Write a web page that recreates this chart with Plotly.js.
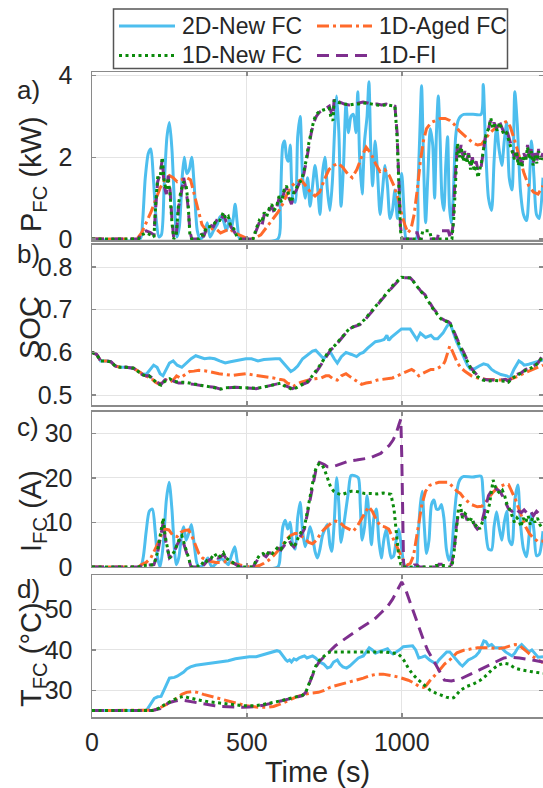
<!DOCTYPE html>
<html>
<head>
<meta charset="utf-8">
<script src="https://cdn.plot.ly/plotly-3.0.1.min.js"></script>
<style>html,body{margin:0;padding:0;background:#fff;}#chart{width:543px;height:788px;}</style>
</head>
<body>
<div id="chart"></div>
<script>
// ---------- DATA (time s, value) ----------
const seriesNames = ["2D-New FC", "1D-Aged FC", "1D-New FC", "1D-FI"];
const xTicks = [0, 500, 1000];
const panelLabels = ["a)", "b)", "c)", "d)"];
const yTitles = ["P<sub>FC</sub> (kW)", "SOC", "I<sub>FC</sub> (A)", "T<sub>FC</sub> (°C)"];

// a) P_FC (kW)
const P_2DNew = [[0,0],[155,0],[163,0.4],[172,1.5],[182,2.1],[190,2.2],[198,1.5],[207,0.5],[216,0.05],[224,0.1],[233,1.3],[242,2.5],[250,2.85],[258,2.2],[266,0.9],[274,0.05],[282,0.3],[291,1.5],[298,2.0],[306,1.6],[314,1.7],[322,2.0],[330,1.3],[340,0.2],[350,0],[362,0.1],[372,0.4],[381,0.05],[392,0.2],[404,0.35],[414,0.55],[424,0.45],[434,0.2],[444,0.5],[452,0.3],[462,0.85],[470,0.3],[478,0],[600,0],[608,0.8],[616,2.3],[622,2.4],[628,2.0],[634,1.9],[640,2.3],[648,1.0],[656,0.9],[664,2.5],[672,3.0],[680,1.5],[688,1.0],[696,1.5],[704,0.8],[712,1.3],[720,1.8],[728,1.3],[736,0.6],[744,1.6],[752,2.0],[760,1.2],[768,0.7],[776,1.4],[784,2.8],[790,3.5],[797,2.6],[804,0.8],[812,1.8],[820,3.3],[828,2.6],[836,3.0],[844,3.05],[852,2.6],[858,3.6],[864,2.0],[872,1.1],[880,2.4],[888,3.0],[894,3.85],[900,2.2],[906,1.3],[914,2.4],[922,1.6],[930,0.6],[938,1.2],[946,1.8],[954,1.3],[962,0.5],[970,0.7],[978,1.2],[986,0.5],[994,1.2],[1000,1.6],[1008,0.6],[1015,0],[1046,0],[1052,1.2],[1058,2.5],[1064,3.75],[1070,2.0],[1077,0.4],[1084,1.5],[1092,2.7],[1100,2.3],[1106,1.0],[1112,2.6],[1118,3.5],[1124,2.4],[1130,1.0],[1136,0.7],[1142,1.8],[1148,2.5],[1154,0.8],[1160,0.4],[1166,1.0],[1174,2.5],[1182,2.9],[1190,3.0],[1200,3.05],[1230,3.05],[1256,3.05],[1263,3.78],[1270,2.4],[1280,1.0],[1290,0.7],[1298,1.9],[1306,2.75],[1314,2.2],[1323,1.8],[1331,2.4],[1339,2.85],[1347,1.5],[1356,1.2],[1365,3.6],[1373,2.8],[1383,1.2],[1393,0.6],[1403,0.45],[1411,1.2],[1419,2.4],[1427,1.5],[1435,0.6],[1444,0.5],[1456,1.5]];
const P_1DAged = [[0,0],[145,0],[160,0.15],[175,0.4],[190,0.65],[205,0.95],[220,1.25],[235,1.45],[250,1.55],[262,1.5],[275,1.4],[290,1.45],[305,1.5],[318,1.45],[330,1.1],[342,0.7],[355,0.35],[370,0.2],[385,0.25],[400,0.25],[415,0.15],[430,0.2],[445,0.25],[460,0.15],[475,0.1],[490,0.03],[505,0],[525,0.02],[545,0.1],[565,0.3],[585,0.5],[600,0.65],[615,0.85],[630,1.1],[645,1.3],[660,1.4],[675,1.45],[690,1.3],[705,1.15],[720,1.05],[735,1.15],[750,1.45],[765,1.7],[780,1.8],[795,1.85],[810,1.75],[825,1.6],[840,1.5],[855,1.7],[870,2.0],[885,2.25],[900,2.1],[915,1.85],[930,1.65],[945,1.7],[960,1.55],[975,1.3],[990,0.95],[1000,0.6],[1010,0.35],[1020,0.15],[1030,0.25],[1040,0.6],[1050,1.2],[1060,1.9],[1070,2.4],[1080,2.7],[1095,2.85],[1110,2.9],[1125,2.95],[1140,2.95],[1155,2.9],[1170,2.8],[1185,2.65],[1200,2.55],[1215,2.45],[1230,2.35],[1245,2.3],[1258,2.32],[1270,2.45],[1285,2.6],[1300,2.7],[1315,2.78],[1330,2.85],[1340,2.88],[1350,2.75],[1365,2.4],[1380,2.0],[1395,1.6],[1410,1.3],[1425,1.15],[1440,1.1],[1456,1.3]];
const P_1DNew = [[0,0],[150,0],[160,0.1],[175,0.15],[190,0.1],[200,0.05],[206,0.9],[212,1.5],[220,1.5],[227,2.0],[233,1.4],[240,1.2],[246,1.5],[252,1.1],[258,0.4],[264,0],[272,0.1],[280,0.9],[288,1.2],[296,1.4],[304,1.3],[310,0.9],[316,0.1],[322,0],[345,0],[352,0.1],[360,0.1],[370,0.3],[380,0.3],[392,0.35],[402,0.45],[412,0.45],[424,0.65],[432,0.5],[440,0.55],[448,0.3],[458,0.25],[468,0.05],[478,0],[520,0],[530,0.25],[540,0.45],[548,0.4],[556,0.65],[564,0.55],[572,0.75],[580,0.85],[588,0.7],[596,0.8],[604,1.05],[612,0.9],[620,1.2],[628,1.3],[636,1.05],[644,0.9],[652,1.15],[660,1.25],[668,1.35],[676,1.45],[684,1.65],[692,1.95],[700,2.35],[708,2.65],[716,2.9],[724,3.05],[734,3.12],[744,3.15],[756,3.18],[766,3.2],[772,2.95],[778,2.9],[782,3.4],[790,3.35],[800,3.33],[815,3.3],[830,3.28],[845,3.3],[860,3.3],[875,3.33],[890,3.32],[905,3.3],[920,3.28],[935,3.27],[950,3.28],[965,3.27],[978,3.25],[985,2.5],[991,1.0],[996,0.2],[1001,0],[1062,0],[1068,0.2],[1090,0.2],[1096,0],[1162,0],[1168,0.5],[1174,1.6],[1180,2.35],[1186,2.0],[1192,2.25],[1198,1.9],[1204,2.1],[1210,1.85],[1216,2.05],[1222,1.7],[1228,1.95],[1234,1.65],[1240,1.8],[1246,1.5],[1252,1.7],[1258,1.9],[1264,2.2],[1272,2.55],[1280,2.7],[1288,2.95],[1294,2.7],[1300,2.8],[1308,2.65],[1316,2.85],[1322,2.7],[1330,2.55],[1338,2.6],[1346,2.4],[1352,2.25],[1358,2.1],[1364,1.95],[1370,2.15],[1376,1.8],[1382,2.0],[1388,1.75],[1394,2.05],[1400,1.9],[1406,2.25],[1412,1.95],[1418,2.15],[1424,1.8],[1430,2.05],[1436,1.85],[1442,2.15],[1448,1.9],[1456,2.05]];
const P_1DFI = [[0,0],[150,0],[160,0.15],[175,0.2],[190,0.15],[200,0.1],[206,0.8],[212,1.4],[220,1.6],[227,1.95],[233,1.3],[240,1.1],[246,1.55],[252,1.2],[258,0.5],[264,0],[272,0.1],[280,0.8],[288,1.1],[296,1.5],[304,1.2],[310,0.8],[316,0.2],[322,0],[345,0],[352,0.15],[360,0.05],[370,0.25],[380,0.35],[392,0.3],[402,0.45],[412,0.4],[424,0.6],[432,0.45],[440,0.5],[448,0.3],[458,0.2],[468,0.05],[478,0],[520,0],[530,0.2],[540,0.4],[548,0.3],[556,0.6],[564,0.55],[572,0.7],[580,0.8],[588,0.65],[596,0.75],[604,1.0],[612,0.9],[620,1.15],[628,1.25],[636,1.0],[644,0.85],[652,1.1],[660,1.2],[668,1.35],[676,1.4],[684,1.6],[692,1.9],[700,2.3],[708,2.6],[716,2.85],[724,3.0],[734,3.1],[744,3.15],[756,3.2],[766,3.25],[772,3.1],[778,3.0],[782,3.45],[790,3.38],[800,3.35],[815,3.3],[830,3.28],[845,3.3],[860,3.32],[875,3.35],[890,3.33],[905,3.3],[920,3.3],[935,3.28],[950,3.3],[965,3.27],[978,3.25],[985,2.6],[991,1.2],[996,0.3],[1001,0],[1035,0],[1040,0.15],[1050,0.15],[1056,0],[1115,0],[1120,0.2],[1150,0.2],[1158,0],[1165,0.3],[1172,1.5],[1180,2.3],[1186,2.1],[1192,2.3],[1198,2.0],[1204,2.15],[1210,1.95],[1216,2.1],[1222,1.8],[1228,2.0],[1234,1.8],[1240,1.9],[1246,1.7],[1252,1.8],[1256,1.75],[1262,2.1],[1270,2.5],[1278,2.6],[1286,2.9],[1292,2.75],[1298,2.85],[1306,2.7],[1314,2.9],[1322,2.75],[1330,2.6],[1338,2.7],[1346,2.5],[1352,2.35],[1358,2.2],[1364,2.0],[1370,2.2],[1376,1.9],[1382,2.05],[1388,1.8],[1394,2.1],[1400,1.95],[1406,2.3],[1412,2.0],[1418,2.2],[1424,1.85],[1430,2.1],[1436,1.9],[1442,2.2],[1448,1.95],[1456,2.1]];

// b) SOC
const SOC_2DNew = [[0,0.6],[15,0.595],[28,0.58],[45,0.58],[61,0.578],[75,0.568],[90,0.565],[110,0.565],[134,0.563],[150,0.555],[162,0.55],[175,0.548],[188,0.56],[199,0.57],[210,0.565],[220,0.55],[229,0.545],[240,0.56],[250,0.575],[262,0.58],[275,0.57],[290,0.565],[305,0.575],[320,0.585],[335,0.592],[350,0.588],[363,0.585],[380,0.587],[396,0.585],[412,0.58],[430,0.575],[447,0.578],[463,0.58],[480,0.583],[497,0.585],[515,0.585],[536,0.58],[555,0.583],[575,0.585],[592,0.585],[606,0.585],[618,0.575],[631,0.563],[642,0.555],[653,0.56],[664,0.568],[680,0.585],[698,0.595],[712,0.603],[722,0.605],[735,0.595],[748,0.585],[760,0.595],[770,0.6],[782,0.585],[792,0.575],[805,0.59],[820,0.6],[838,0.595],[854,0.59],[866,0.597],[876,0.6],[890,0.61],[898,0.615],[915,0.625],[930,0.627],[943,0.63],[952,0.64],[958,0.628],[966,0.635],[982,0.645],[999,0.655],[1013,0.655],[1027,0.655],[1040,0.64],[1049,0.63],[1060,0.645],[1070,0.638],[1077,0.635],[1094,0.64],[1105,0.632],[1116,0.632],[1126,0.64],[1133,0.645],[1145,0.66],[1155,0.67],[1160,0.66],[1170,0.64],[1177,0.625],[1190,0.605],[1200,0.59],[1212,0.57],[1222,0.56],[1236,0.562],[1250,0.568],[1264,0.573],[1278,0.57],[1290,0.56],[1300,0.555],[1320,0.548],[1339,0.545],[1350,0.54],[1362,0.56],[1378,0.58],[1388,0.575],[1395,0.57],[1410,0.572],[1423,0.575],[1440,0.578],[1456,0.582]];
const SOC_1DAged = [[0,0.6],[15,0.595],[28,0.58],[45,0.58],[61,0.578],[75,0.568],[90,0.565],[110,0.565],[134,0.563],[150,0.555],[162,0.55],[173,0.545],[190,0.54],[205,0.53],[218,0.525],[230,0.535],[240,0.535],[251,0.53],[262,0.535],[273,0.545],[285,0.54],[300,0.548],[315,0.555],[329,0.556],[345,0.558],[363,0.557],[385,0.553],[410,0.55],[430,0.548],[455,0.546],[475,0.548],[497,0.55],[520,0.547],[541,0.545],[565,0.542],[586,0.54],[605,0.537],[620,0.535],[631,0.528],[642,0.525],[650,0.52],[660,0.525],[675,0.53],[697,0.535],[720,0.538],[740,0.54],[755,0.545],[765,0.545],[780,0.537],[792,0.535],[805,0.545],[820,0.55],[835,0.542],[850,0.535],[870,0.525],[885,0.528],[900,0.53],[921,0.535],[940,0.537],[955,0.54],[970,0.54],[985,0.545],[999,0.55],[1015,0.555],[1032,0.56],[1043,0.555],[1055,0.545],[1066,0.55],[1080,0.555],[1094,0.56],[1110,0.56],[1122,0.565],[1133,0.57],[1140,0.58],[1148,0.6],[1155,0.615],[1162,0.605],[1170,0.59],[1180,0.575],[1192,0.563],[1205,0.555],[1225,0.545],[1245,0.54],[1270,0.537],[1300,0.535],[1325,0.535],[1344,0.535],[1362,0.54],[1378,0.545],[1400,0.553],[1422,0.56],[1440,0.565],[1456,0.57]];
const SOC_1DNew = [[0,0.6],[15,0.595],[28,0.58],[45,0.58],[61,0.578],[75,0.568],[90,0.565],[110,0.565],[134,0.563],[150,0.555],[162,0.548],[173,0.545],[184,0.545],[195,0.538],[210,0.528],[223,0.523],[235,0.532],[251,0.538],[265,0.532],[280,0.53],[300,0.53],[329,0.526],[350,0.523],[370,0.52],[395,0.518],[418,0.514],[430,0.517],[445,0.518],[465,0.518],[485,0.517],[505,0.516],[530,0.516],[550,0.518],[564,0.52],[580,0.523],[597,0.526],[610,0.528],[620,0.522],[632,0.518],[647,0.513],[657,0.516],[668,0.52],[680,0.525],[697,0.532],[708,0.542],[720,0.553],[734,0.568],[748,0.583],[760,0.598],[770,0.607],[785,0.617],[803,0.632],[818,0.646],[831,0.656],[845,0.66],[865,0.667],[880,0.677],[898,0.692],[910,0.702],[921,0.712],[932,0.722],[943,0.732],[954,0.741],[960,0.746],[970,0.756],[985,0.766],[999,0.776],[1013,0.775],[1027,0.774],[1040,0.764],[1050,0.754],[1060,0.744],[1075,0.733],[1088,0.718],[1100,0.703],[1116,0.688],[1127,0.678],[1138,0.674],[1150,0.671],[1157,0.667],[1167,0.648],[1177,0.632],[1189,0.612],[1200,0.597],[1210,0.582],[1222,0.563],[1233,0.552],[1245,0.543],[1262,0.535],[1280,0.533],[1300,0.534],[1320,0.533],[1335,0.532],[1344,0.53],[1355,0.538],[1370,0.546],[1385,0.551],[1400,0.558],[1420,0.564],[1440,0.574],[1456,0.592]];
const SOC_1DFI = [[0,0.6],[15,0.595],[28,0.58],[45,0.58],[61,0.578],[75,0.568],[90,0.565],[110,0.565],[134,0.563],[150,0.555],[162,0.548],[173,0.545],[184,0.545],[195,0.54],[210,0.53],[223,0.525],[235,0.535],[251,0.54],[265,0.532],[280,0.528],[300,0.528],[329,0.525],[350,0.522],[370,0.52],[395,0.518],[418,0.513],[430,0.517],[445,0.518],[465,0.518],[485,0.517],[505,0.516],[530,0.515],[550,0.518],[564,0.52],[580,0.523],[597,0.525],[610,0.528],[620,0.523],[632,0.52],[647,0.515],[657,0.518],[668,0.52],[680,0.525],[697,0.53],[708,0.54],[720,0.55],[734,0.565],[748,0.58],[760,0.595],[770,0.605],[785,0.615],[803,0.63],[818,0.645],[831,0.655],[845,0.66],[865,0.665],[880,0.675],[898,0.69],[910,0.7],[921,0.71],[932,0.72],[943,0.73],[954,0.74],[960,0.745],[970,0.755],[985,0.765],[999,0.775],[1013,0.775],[1027,0.775],[1040,0.765],[1050,0.755],[1060,0.745],[1075,0.735],[1088,0.72],[1100,0.705],[1116,0.69],[1127,0.68],[1138,0.675],[1150,0.672],[1157,0.668],[1167,0.65],[1177,0.635],[1189,0.615],[1200,0.6],[1210,0.585],[1222,0.565],[1233,0.555],[1245,0.545],[1262,0.537],[1280,0.535],[1300,0.535],[1320,0.535],[1335,0.537],[1344,0.532],[1355,0.54],[1370,0.548],[1385,0.552],[1400,0.56],[1420,0.565],[1440,0.575],[1456,0.595]];

// c) I_FC (A)
const I_2DNew = [[0,0],[156,0],[165,2],[175,8],[185,12.5],[195,13],[204,8],[212,2],[220,0],[230,5],[240,15],[249,19],[258,13],[266,4],[272,0.5],[280,2],[290,7.5],[296,9],[304,6],[312,7.5],[321,9.5],[330,5],[338,1],[345,0],[360,0.5],[374,2],[384,0.3],[392,0.2],[404,1],[418,1.8],[430,1.2],[440,0.5],[450,2.5],[461,4.5],[470,1],[478,0],[600,0],[608,3],[616,9],[624,10.5],[632,8.5],[640,10],[648,5],[656,4],[664,11],[672,14.5],[680,8],[688,4.5],[696,6.5],[704,9],[712,7],[720,3.5],[728,2],[736,4],[744,7],[752,8.5],[760,9.5],[768,5],[774,3.5],[782,10],[790,20],[797,14],[804,5.5],[812,9],[820,13],[828,17],[836,20.5],[848,20.5],[860,20],[866,14],[872,6],[880,9],[888,16],[896,10],[902,5],[910,11],[918,13],[926,6],[934,2],[942,6],[950,8.5],[958,5],[966,2],[974,2.5],[982,6],[990,8.5],[998,5],[1006,1],[1012,0],[1046,0],[1052,6],[1060,14],[1066,17],[1072,10],[1080,3],[1088,6],[1096,14],[1104,15],[1112,13],[1120,13],[1128,14],[1136,11],[1144,4],[1152,1.5],[1160,3],[1168,10],[1176,16],[1184,19],[1192,20],[1200,20.3],[1230,20.2],[1256,20.4],[1262,17],[1270,9],[1280,4],[1290,3.8],[1298,9],[1306,12.4],[1314,9],[1323,6],[1331,10],[1339,12.5],[1347,6],[1356,5],[1365,15],[1375,18.4],[1383,10],[1393,4],[1403,2.3],[1411,7],[1419,12],[1427,8],[1435,2.5],[1444,2.8],[1456,8]];
const I_1DAged = [[0,0],[150,0],[160,0.5],[175,1],[190,2],[205,4],[218,6],[228,8],[236,8.5],[248,8.3],[262,7],[275,6.8],[287,7.8],[300,8.2],[312,8.3],[322,7],[333,5],[345,3],[357,2],[370,1.5],[385,1.2],[400,1.0],[418,1.0],[432,1.2],[446,1.0],[460,0.8],[474,0.5],[490,0.2],[508,0],[525,0],[540,0.3],[555,0.8],[570,1.5],[586,2.5],[600,3.5],[612,4.5],[625,6],[640,7],[655,7.5],[665,7.5],[675,7],[687,6.2],[700,5.5],[712,5.2],[725,6],[738,7.5],[750,8.5],[762,9.2],[775,10],[787,10.3],[800,10],[815,9],[830,8.5],[843,8],[855,9],[868,10.5],[880,12],[893,13.5],[905,12.5],[918,10.5],[932,9.2],[945,9],[958,8.5],[968,7],[978,5.5],[988,4],[998,2.2],[1008,1],[1018,0.4],[1028,0.8],[1038,2.5],[1046,6],[1055,10],[1065,14],[1077,17],[1090,18.3],[1105,18.7],[1120,19],[1135,19],[1150,19],[1165,18],[1178,17],[1189,16.5],[1200,15.5],[1211,14.8],[1225,14],[1244,13.5],[1258,13.6],[1270,14.5],[1283,15.8],[1295,16.8],[1310,17.8],[1322,18.2],[1335,18.6],[1345,18.5],[1356,17],[1368,15],[1378,13],[1389,11],[1400,9],[1412,7.5],[1425,6.5],[1440,5.7],[1456,5.8]];
const I_1DNew = [[0,0],[150,0],[165,0.3],[185,0.4],[200,0.5],[210,3],[218,6],[226,9],[230,11],[236,7],[242,5],[250,2],[258,2.5],[266,3.5],[275,5],[283,6.5],[290,7],[297,5.5],[304,4],[312,2],[320,0],[340,0],[352,1],[362,0.5],[372,1.5],[385,2],[396,3],[405,2],[415,2.5],[424,3.2],[432,2],[442,1.5],[452,1],[465,0.5],[476,0],[520,0],[530,1.5],[540,2.5],[552,3],[562,2.5],[572,3.5],[582,3],[590,3.5],[600,4.5],[610,4],[619,5],[628,6],[636,6.5],[644,5],[652,4.5],[660,5.5],[668,7],[676,8],[686,9],[694,12],[702,15],[710,18],[718,21],[725,22.5],[734,23.2],[742,23],[750,22],[760,20],[770,18],[780,17],[792,16.5],[805,16.2],[820,16.5],[837,17],[850,17],[865,16.8],[880,16.5],[900,16.5],[920,16.4],[940,16.6],[955,16.5],[965,16.3],[975,13],[983,7],[990,2.5],[999,0],[1100,0],[1110,0.3],[1140,0.3],[1150,0],[1162,0],[1170,4],[1177,9],[1183,13],[1189,14],[1196,11],[1204,12],[1211,11.5],[1218,10],[1226,11],[1235,9],[1244,9.5],[1252,8.5],[1260,10],[1268,11],[1276,12],[1283,14],[1290,18],[1295,19.5],[1302,18],[1310,17],[1317,16.5],[1325,17.2],[1332,16],[1340,14],[1348,13],[1356,11.5],[1364,10],[1372,11],[1378,10.5],[1385,9],[1392,11],[1400,10],[1408,11.5],[1415,9.5],[1422,11],[1430,10],[1438,11],[1446,9.5],[1456,8.5]];
const I_1DFI = [[0,0],[150,0],[165,0.3],[185,0.4],[200,0.5],[210,2.5],[218,5.5],[226,8.5],[230,10],[236,6.5],[242,4.5],[250,2],[258,2.5],[266,3.5],[275,5],[283,6],[290,6.5],[297,5],[304,3.5],[312,1.5],[320,0],[340,0],[352,0.8],[362,0.5],[372,1.3],[385,1.8],[396,2.5],[405,2],[415,2.2],[424,2.8],[432,2],[442,1.5],[452,1],[465,0.4],[476,0],[520,0],[530,1.2],[540,2.2],[552,2.8],[562,2.3],[572,3.2],[582,3],[590,3.3],[600,4.2],[610,3.8],[619,4.8],[628,5.5],[636,6],[644,5],[652,4.5],[660,5.5],[668,6.5],[676,7.5],[686,8.5],[694,11.5],[702,14.5],[710,17.5],[718,20.5],[725,22.5],[734,23.5],[742,23.3],[750,23],[760,22.5],[776,22.5],[790,22.8],[809,23.2],[830,23.8],[854,24],[875,24.2],[898,24.5],[915,25],[932,25.5],[948,26.5],[960,27.3],[972,28.5],[982,30],[991,32],[997,33.2],[1000,25],[1003,10],[1006,0],[1035,0],[1040,0.4],[1050,0.4],[1056,0],[1115,0],[1120,0.6],[1150,0.6],[1160,0.5],[1168,3],[1176,9],[1183,12],[1189,12.3],[1196,11.5],[1204,11.8],[1211,10.5],[1220,10],[1230,10.3],[1238,9],[1244,8.5],[1252,9],[1260,10.5],[1270,13],[1280,16],[1289,17],[1297,18],[1305,17.5],[1317,17],[1325,16],[1335,14.5],[1345,13],[1356,12.5],[1364,12.8],[1372,12],[1378,12.5],[1386,12.2],[1395,12.8],[1405,12],[1415,12.6],[1425,11.5],[1435,12.5],[1445,11.8],[1456,12.2]];

// d) T_FC (°C)
const T_2DNew = [[0,25],[173,25],[180,25.5],[188,26.5],[195,27.5],[201,28],[212,28.4],[223,28.5],[232,30],[240,31.5],[250,33],[257,33.1],[266,33.2],[275,33.5],[285,34],[296,34.5],[306,35.3],[318,35.8],[335,36.2],[355,36.4],[374,36.5],[396,36.8],[418,37],[440,37.3],[463,37.8],[485,38.1],[508,38.3],[530,38.3],[548,38.7],[564,39],[580,39.5],[597,39.8],[606,39.6],[616,38.5],[626,37.5],[631,37.2],[638,37.5],[644,37],[652,37.8],[660,37.5],[668,38],[678,38.3],[686,38.5],[694,38],[702,38.2],[712,38.5],[722,38],[735,37],[748,36.5],[760,35.5],[770,35.8],[780,37],[792,37.5],[800,36.5],[810,35.8],[822,35.5],[832,36],[845,37],[860,38],[876,38.5],[885,39.5],[895,40.5],[905,40],[915,39.2],[925,39.5],[935,39.8],[945,40.2],[954,40.3],[962,39.5],[972,39],[982,39.5],[993,40],[1005,40.8],[1021,41],[1035,41],[1045,40],[1055,38],[1065,38.2],[1075,38.5],[1090,37.5],[1100,37],[1111,36.5],[1120,37.5],[1133,38.5],[1145,39.5],[1155,39.5],[1165,38.5],[1177,37.5],[1188,36.5],[1196,36],[1205,36.8],[1215,37.5],[1228,38],[1239,38.5],[1250,39.5],[1258,41],[1265,42.2],[1272,42],[1280,41],[1290,41.3],[1300,40.5],[1311,40.5],[1322,40.5],[1335,39.5],[1345,39],[1356,38.5],[1365,39.2],[1375,40.5],[1387,41.3],[1398,40.5],[1410,39.5],[1420,40],[1430,39],[1440,38.2],[1456,38.3]];
const T_1DAged = [[0,25],[190,25],[200,25.1],[215,25.5],[228,26],[240,26.5],[255,27.3],[273,28],[290,29],[305,29.5],[324,29.7],[340,29.5],[360,29],[385,28.5],[408,28],[430,27.5],[452,27],[474,26.6],[497,26.2],[519,26],[540,25.8],[565,25.8],[586,26],[605,26.5],[620,27],[640,27.8],[664,28.5],[686,29],[705,29.3],[731,29.5],[750,30],[770,30.8],[790,31.2],[809,31.5],[830,32],[855,32.5],[876,33],[900,33.7],[921,34],[940,34],[960,33.8],[975,33.5],[988,33.3],[1000,33],[1021,32.5],[1040,31.8],[1055,31],[1070,30.7],[1077,31],[1090,32.3],[1105,33.5],[1122,35],[1138,36.5],[1155,37.5],[1178,39.3],[1200,39.9],[1222,40.2],[1244,40.5],[1265,40.5],[1288,40.5],[1311,40.3],[1330,40.5],[1350,41],[1365,41.3],[1378,41.2],[1390,40.5],[1405,39.5],[1420,38.5],[1435,37.7],[1456,36.8]];
const T_1DNew = [[0,25],[195,25],[205,25.2],[220,25.7],[235,26.5],[251,27.2],[265,27.7],[280,28.2],[296,28.5],[310,28.2],[330,27.8],[352,27.5],[375,27.2],[396,27],[420,26.8],[442,26.5],[464,26.3],[485,26.2],[508,26.2],[530,26.2],[552,26.5],[575,26.8],[597,27.2],[619,27.6],[642,28],[664,28.5],[680,28.8],[690,29.5],[697,31],[704,32.5],[711,34],[718,35.5],[725,36.5],[735,37.5],[748,38.5],[760,39.2],[770,39.5],[790,39.5],[820,39.5],[860,39.5],[900,39.5],[943,39.5],[965,39.3],[988,39],[998,38.3],[1008,37.3],[1021,35.5],[1035,34],[1050,32.8],[1065,31.8],[1077,31],[1092,30],[1110,29.3],[1125,28.8],[1144,28.3],[1160,28],[1168,28.2],[1178,29],[1189,30],[1211,31],[1230,31.5],[1252,32.4],[1270,33.5],[1290,35],[1310,36.2],[1330,36.7],[1345,36.5],[1365,35.5],[1390,35],[1420,34.6],[1456,34.2]];
const T_1DFI = [[0,25],[195,25],[205,25.2],[220,25.5],[235,26.3],[251,27],[265,27.3],[280,27.5],[296,27.5],[310,27.3],[330,27],[352,26.8],[375,26.5],[396,26.2],[420,26],[442,25.9],[464,25.8],[485,25.8],[508,25.9],[530,26],[552,26.3],[575,26.7],[597,27.2],[619,27.6],[642,28],[664,28.3],[680,28.7],[690,29.5],[697,30.7],[704,32],[711,33.5],[718,34.8],[725,36],[735,37.2],[748,38.2],[760,39.2],[770,40],[785,41],[803,42],[830,43.5],[865,45.3],[890,46.5],[915,47.8],[935,49.3],[954,50.7],[970,52.5],[985,54.5],[1000,56.8],[1012,55],[1021,53],[1035,50],[1055,46],[1070,42.5],[1083,40],[1097,38],[1111,36],[1125,34],[1138,32.5],[1160,32.3],[1189,32.8],[1230,34.3],[1270,35.8],[1300,37],[1330,38],[1350,38.2],[1380,38],[1420,37.5],[1456,37]];

// ---------- STYLE ----------
const FONT = "Liberation Sans, Arial, Helvetica, sans-serif";
const TXT = "#262626";
const FRAME = "#8a8a8a";
const styles = {
  "2D-New FC": {color: "#4dbeee", dash: "solid"},
  "1D-Aged FC": {color: "#ff6a2b", dash: "12px,4px,3px,4px"},
  "1D-New FC": {color: "#0b8a0b", dash: "3px,3.5px"},
  "1D-FI": {color: "#7e2f8e", dash: "12px,7px"}
};

const panels = [
  {xa: "x", ya: "y", smooth: true, data: {"2D-New FC": P_2DNew, "1D-Aged FC": P_1DAged, "1D-FI": P_1DFI, "1D-New FC": P_1DNew}},
  {xa: "x2", ya: "y2", smooth: false, data: {"2D-New FC": SOC_2DNew, "1D-Aged FC": SOC_1DAged, "1D-FI": SOC_1DFI, "1D-New FC": SOC_1DNew}},
  {xa: "x3", ya: "y3", smooth: true, data: {"2D-New FC": I_2DNew, "1D-Aged FC": I_1DAged, "1D-FI": I_1DFI, "1D-New FC": I_1DNew}},
  {xa: "x4", ya: "y4", smooth: false, data: {"2D-New FC": T_2DNew, "1D-Aged FC": T_1DAged, "1D-FI": T_1DFI, "1D-New FC": T_1DNew}}
];

const traces = [];
panels.forEach((p) => {
  Object.keys(p.data).forEach(name => {
    const s = styles[name];
    const pts = p.data[name];
    const line = {color: s.color, width: 3, dash: s.dash};
    if (p.smooth && name === "2D-New FC") { line.shape = "spline"; line.smoothing = 0.7; }
    traces.push({
      type: "scatter", mode: "lines",
      x: pts.map(d => d[0]), y: pts.map(d => d[1]),
      xaxis: p.xa, yaxis: p.ya,
      name: name, showlegend: false,
      line: line, hoverinfo: "skip"
    });
  });
});

function xaxisDef(showLabels) {
  return {
    range: [0, 1456], tickvals: xTicks, ticktext: xTicks.map(String),
    showticklabels: showLabels, ticks: "inside", ticklen: 4, tickwidth: 1.5, tickcolor: FRAME,
    showline: true, linecolor: FRAME, linewidth: 1.5, mirror: "ticks",
    showgrid: true, gridcolor: "#e4e4e4", gridwidth: 1, zeroline: false,
    tickfont: {family: FONT, size: 25, color: TXT}, ticklabelstandoff: 2
  };
}
function yaxisDef(domain, range, ticks) {
  return {
    domain: domain, range: range, tickvals: ticks,
    ticks: "inside", ticklen: 4, tickwidth: 1.5, tickcolor: FRAME,
    showline: true, linecolor: FRAME, linewidth: 1.5, mirror: "ticks",
    showgrid: true, gridcolor: "#e4e4e4", gridwidth: 1, zeroline: false,
    tickfont: {family: FONT, size: 25, color: TXT}, ticklabelstandoff: 13
  };
}

// pixel -> paper helpers (plot area: x 92..543, y 72..717)
const px2x = px => (px - 92) / 451;
const px2y = py => (717 - py) / 645;

// Legend built as shapes + text (two columns, two rows as in the figure)
const legendCells = [
  {name: seriesNames[0], col: 0, row: 0},
  {name: seriesNames[1], col: 1, row: 0},
  {name: seriesNames[2], col: 0, row: 1},
  {name: seriesNames[3], col: 1, row: 1}
];
const legCols = [{l0: 119, l1: 175, tx: 180}, {l0: 317, l1: 372, tx: 377}];
const legRows = [26, 55.5];

const shapes = [{
  type: "rect", xref: "paper", yref: "paper",
  x0: px2x(113.5), x1: px2x(507.5), y0: px2y(68.5), y1: px2y(9),
  line: {color: "#555555", width: 1.5}, fillcolor: "#ffffff", layer: "above"
}];
const annotations = [];
legendCells.forEach(c => {
  const s = styles[c.name], col = legCols[c.col], yy = px2y(legRows[c.row]);
  shapes.push({type: "line", xref: "paper", yref: "paper", x0: px2x(col.l0), x1: px2x(col.l1), y0: yy, y1: yy,
    line: {color: s.color, width: 3, dash: s.dash}, layer: "above"});
  annotations.push({text: c.name, xref: "paper", yref: "paper", x: px2x(col.tx), y: yy, xanchor: "left", yanchor: "middle",
    showarrow: false, font: {family: FONT, size: 23, color: TXT}});
});

// panel letters
const letterY = [90, 254, 427, 589];
panelLabels.forEach((t, i) => annotations.push({text: t, xref: "paper", yref: "paper", x: px2x(28), y: px2y(letterY[i]),
  xanchor: "center", yanchor: "middle", showarrow: false, font: {family: FONT, size: 26, color: TXT}}));

// y-axis titles (rotated), placed like the figure's labels
const yTitleY = [174, 327, 511, 655];
const yTitleX = [33, 30, 33, 33];
yTitles.forEach((t, i) => annotations.push({text: t, xref: "paper", yref: "paper", x: px2x(yTitleX[i]), y: px2y(yTitleY[i]),
  xanchor: "center", yanchor: "middle", textangle: -90, showarrow: false, font: {family: FONT, size: 29, color: TXT}}));

const layout = {
  width: 543, height: 788,
  margin: {l: 92, r: 0, t: 72, b: 71, pad: 0},
  paper_bgcolor: "#ffffff", plot_bgcolor: "#ffffff",
  font: {family: FONT, color: TXT},
  showlegend: false,
  xaxis: Object.assign(xaxisDef(false), {anchor: "y", matches: "x4"}),
  xaxis2: Object.assign(xaxisDef(false), {anchor: "y2", matches: "x4"}),
  xaxis3: Object.assign(xaxisDef(false), {anchor: "y3", matches: "x4"}),
  xaxis4: Object.assign(xaxisDef(true), {anchor: "y4", title: {text: "Time (s)", font: {family: FONT, size: 29, color: TXT}, standoff: 21}}),
  yaxis: yaxisDef([0.7395, 1.0], [-0.025, 4.086], [0, 2, 4]),
  yaxis2: yaxisDef([0.4837, 0.7318], [0.4766, 0.8516], [0.5, 0.6, 0.7, 0.8]),
  yaxis3: yaxisDef([0.2326, 0.4736], [-0.02, 34.9], [0, 10, 20, 30]),
  yaxis4: yaxisDef([0, 0.2194], [23.4, 58.4], [30, 40, 50]),
  shapes: shapes,
  annotations: annotations
};

Plotly.newPlot("chart", traces, layout, {staticPlot: true, displayModeBar: false});
</script>
</body>
</html>
